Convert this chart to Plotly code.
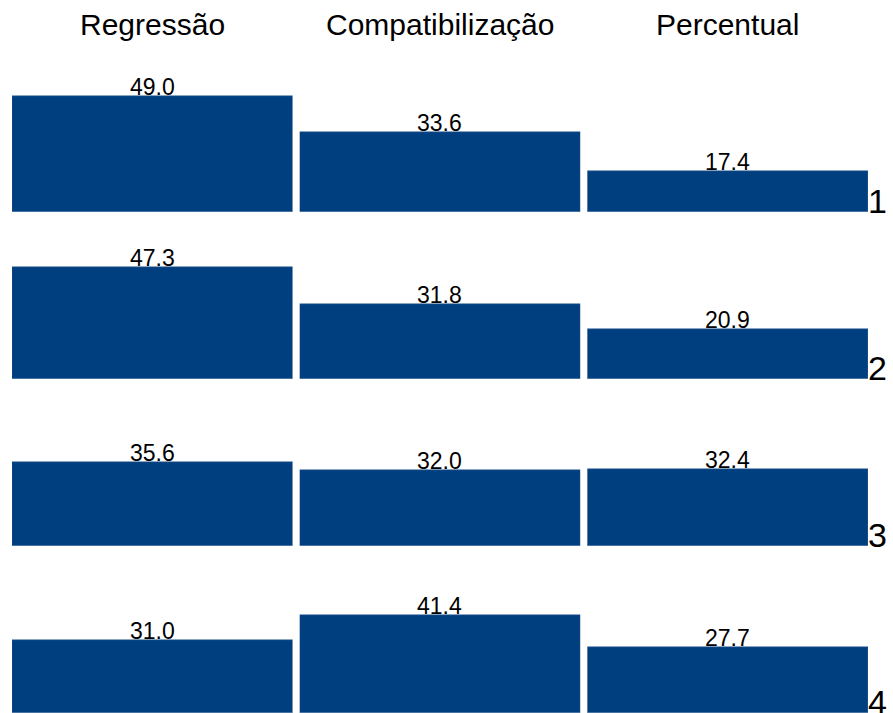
import plotly.graph_objects as go
from plotly.subplots import make_subplots

methods = ["Regressão", "Compatibilização", "Percentual"]
groups = ["1", "2", "3", "4"]
regressao = [49.0, 47.3, 35.6, 31.0]
compatibilizacao = [33.6, 31.8, 32.0, 41.4]
percentual = [17.4, 20.9, 32.4, 27.7]
series = [regressao, compatibilizacao, percentual]

BAR = "#003f7f"
EDGE = "#4f78a6"
FONT = "Liberation Sans, Arial, sans-serif"
YMAX = 70.5

W, H = 893, 713
ml, mr, mt, mb = 12, 25, 45, 0
gap = 7
pw = W - ml - mr

fig = make_subplots(rows=4, cols=3, horizontal_spacing=gap / pw, vertical_spacing=0)

for c, vals in enumerate(series):
    for r, v in enumerate(vals):
        fig.add_trace(
            go.Bar(x=[methods[c]], y=[v], width=[1], marker=dict(color=BAR, line=dict(width=0.6, color=EDGE)),
                   showlegend=False, hoverinfo="skip"),
            row=r + 1, col=c + 1)
        fig.add_annotation(x=methods[c], y=v, text=f"{v:.1f}", showarrow=False,
                           xanchor="center", yanchor="bottom", yshift=-6,
                           font=dict(family=FONT, size=23, color="#000"),
                           row=r + 1, col=c + 1)

fig.update_xaxes(visible=False, range=[-0.5, 0.5], fixedrange=True)
fig.update_yaxes(visible=False, range=[0, YMAX], fixedrange=True)

# column titles
for c, m in enumerate(methods):
    xa = fig.layout["xaxis" if c == 0 else f"xaxis{c + 1}"]
    d = xa.domain
    fig.add_annotation(x=(d[0] + d[1]) / 2, y=1, xref="paper", yref="paper",
                       xanchor="center", yanchor="bottom", yshift=2, text=m, showarrow=False,
                       font=dict(family=FONT, size=30, color="#000"))

# row labels
for r, g in enumerate(groups):
    ya = fig.layout["yaxis" if r == 0 else f"yaxis{r * 3 + 1}"]
    d = ya.domain
    fig.add_annotation(x=1, y=d[0], xref="paper", yref="paper", xanchor="left",
                       yanchor="bottom", xshift=-2, yshift=-10, text=g, showarrow=False,
                       font=dict(family=FONT, size=34, color="#000"))

fig.update_layout(width=W, height=H, margin=dict(l=ml, r=mr, t=mt, b=mb),
                  paper_bgcolor="white", plot_bgcolor="white", bargap=0)

fig.write_html("out.html")
